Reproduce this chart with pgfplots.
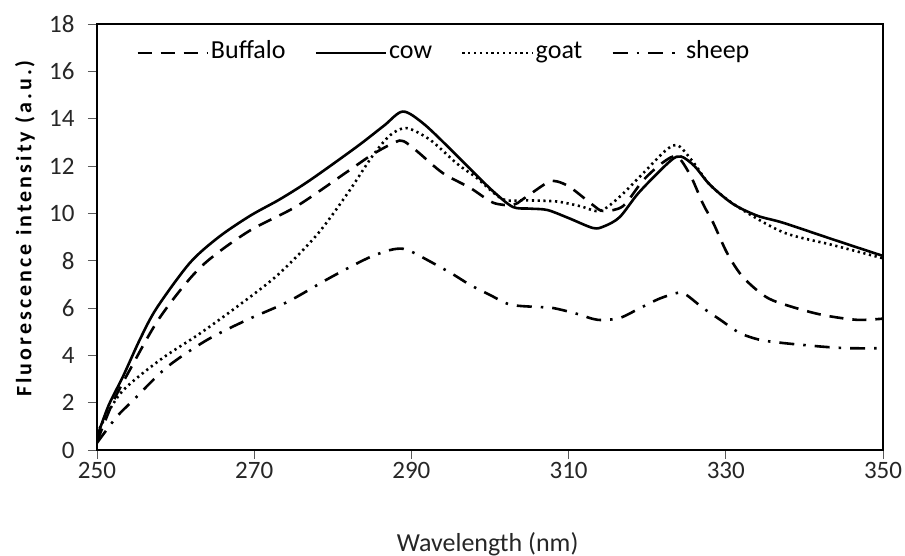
\documentclass[border=0pt]{standalone}
\usepackage{fontspec}
\setmainfont{Carlito}
\newfontfamily\ylabfont[LetterSpace=14]{Carlito}
\usepackage{pgfplots}
\pgfplotsset{compat=1.18}
\begin{document}
\begin{tikzpicture}
\path[use as bounding box] (-97pt,-106pt) rectangle (808pt,450pt);
\begin{axis}[
  scale only axis,
  width=786pt, height=426pt,
  xmin=250, xmax=350, ymin=0, ymax=18,
  xtick={250,270,...,350},
  ytick={0,2,...,18},
  xtick pos=bottom, ytick pos=left,
  tick align=outside,
  major tick length=9pt,
  tick style={gray!70!black, line width=0.8pt},
  axis line style={black, line width=2.4pt},
  /pgf/number format/assume math mode=true,
  ticklabel style={font=\fontsize{25}{29}\selectfont, text=black!85},
  yticklabel style={xshift=-10pt},
  xlabel={Wavelength (nm)},
  ylabel={Fluorescence intensity (a.u.)},
  xlabel style={font=\fontsize{26}{30}\selectfont, text=black!85, at={(axis description cs:0.497,-0.2207)}, anchor=center},
  ylabel style={font=\fontsize{22}{26}\ylabfont\bfseries, at={(axis description cs:-0.0916,0.52)}, anchor=center},
  legend style={at={(0.046,0.932)}, anchor=west, draw=none, fill=none,
    font=\fontsize{26}{30}\selectfont, legend columns=4,
    nodes={text height=17pt, text depth=5pt, inner sep=2pt},
    /tikz/every even column/.append style={column sep=27pt}},
  legend image code/.code={\draw[#1] (0pt,0pt) -- (70pt,0pt);},
  every axis plot/.append style={line width=2.6pt, black, smooth, tension=0.5},
]
\addplot[dash pattern=on 14pt off 9pt] coordinates {
(250,0.35)(252,2.0)(254.2,3.4)(258,5.6)(263.1,7.7)(269.1,9.2)(275.4,10.3)(281.8,11.75)(285.1,12.5)(287.9,13.0)(289,13.05)(290.8,12.6)(294,11.7)(297.5,11.07)(300.4,10.45)(302.9,10.35)(304.2,10.6)(307.3,11.3)(308.5,11.35)(310.2,11.1)(313.1,10.35)(314.4,10.1)(316.9,10.3)(319.5,11.4)(322,12.15)(323.8,12.4)(325.5,11.6)(327.1,10.4)(328.4,9.6)(330.2,8.3)(332.2,7.3)(335.2,6.45)(338.5,6.04)(342.4,5.7)(346.7,5.5)(350,5.55)
};
\addlegendentry{Buffalo}
\addplot[solid] coordinates {
(250,0.55)(251.5,1.9)(253.3,3.1)(255.5,4.7)(257.6,6.0)(261.8,7.9)(265.5,9.0)(269.5,9.9)(273.3,10.6)(277.1,11.4)(283,12.8)(286.5,13.7)(288.9,14.3)(291.5,13.8)(295,12.7)(298,11.7)(300.5,10.9)(302.9,10.27)(305,10.2)(307.3,10.14)(310,9.8)(313.1,9.38)(314.5,9.45)(316.5,9.84)(319,10.9)(322.9,12.2)(324.3,12.4)(326,12.0)(328,11.2)(330.9,10.4)(334,9.9)(337.3,9.6)(343.6,8.9)(350,8.2)
};
\addlegendentry{cow}
\addplot[dash pattern=on 2.2pt off 3.6pt] coordinates {
(250,0.7)(253,2.4)(258,3.8)(263,4.9)(268,6.1)(273,7.4)(278,9.1)(282,10.9)(285,12.4)(287.3,13.3)(289.4,13.6)(292.4,13.1)(295.8,12.1)(298.3,11.5)(301.6,10.6)(304.7,10.55)(308.5,10.5)(311.5,10.3)(314,10.1)(316.5,10.7)(319.5,11.7)(322.5,12.7)(324,12.85)(326,12.1)(328,11.2)(331.4,10.3)(337.3,9.2)(343.6,8.66)(350,8.1)
};
\addlegendentry{goat}
\addplot[dash pattern=on 15pt off 9pt on 2.5pt off 9pt] coordinates {
(250,0.3)(252.5,1.4)(254.6,2.1)(258.9,3.5)(264,4.65)(269.1,5.5)(274.2,6.25)(279.6,7.27)(284.4,8.1)(287.3,8.45)(289,8.5)(290.5,8.3)(294.9,7.5)(297.5,6.97)(300,6.55)(302.5,6.15)(305.5,6.05)(308,6.0)(311.1,5.75)(313.7,5.5)(316.5,5.58)(319.1,6.0)(321.6,6.4)(324,6.65)(325,6.55)(327.1,6.0)(329.3,5.5)(331.8,4.94)(334.4,4.65)(337.3,4.52)(339.8,4.44)(342.9,4.35)(345.8,4.3)(350,4.3)
};
\addlegendentry{sheep}
\end{axis}
\end{tikzpicture}
\end{document}
